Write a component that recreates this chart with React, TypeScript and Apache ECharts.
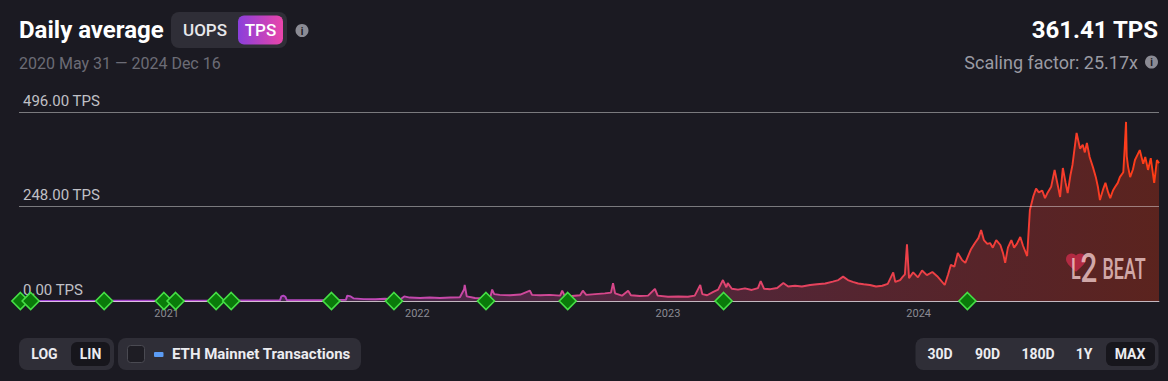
import React, { useEffect, useRef } from "react";
import * as echarts from "echarts";

// ---------- data ----------
const tpsDates = [
  "2020-05-31","2020-07-15","2020-09-01","2020-10-15","2020-12-01","2021-01-15","2021-03-01","2021-04-15",
  "2021-06-01","2021-06-15","2021-06-17","2021-06-20","2021-06-23","2021-06-25","2021-07-15","2021-08-10",
  "2021-09-01","2021-09-19","2021-09-21","2021-09-26","2021-09-30","2021-10-15","2021-11-01","2021-11-15",
  "2021-11-28","2021-12-07","2021-12-13","2021-12-21","2022-01-05","2022-01-19","2022-02-03","2022-02-18",
  "2022-03-04","2022-03-10","2022-03-11","2022-03-14","2022-03-26","2022-04-10","2022-04-17","2022-04-20",
  "2022-04-23","2022-05-01","2022-05-16","2022-05-31","2022-06-14","2022-06-17","2022-06-29","2022-07-13",
  "2022-07-28","2022-07-31","2022-08-04","2022-08-14","2022-08-26","2022-08-30","2022-09-04","2022-09-17",
  "2022-10-01","2022-10-10","2022-10-13","2022-10-16","2022-10-26","2022-11-04","2022-11-08","2022-11-21",
  "2022-12-03","2022-12-13","2022-12-17","2023-01-01","2023-01-16","2023-01-30","2023-02-09","2023-02-17",
  "2023-02-20","2023-02-27","2023-03-08","2023-03-15","2023-03-22","2023-03-27","2023-03-29","2023-04-04",
  "2023-04-13","2023-04-23","2023-05-03","2023-05-12","2023-05-16","2023-05-21","2023-05-30","2023-06-09",
  "2023-06-18","2023-06-25","2023-07-05","2023-07-15","2023-07-27","2023-08-06","2023-08-18","2023-08-29",
  "2023-09-06","2023-09-13","2023-09-20","2023-09-27","2023-10-05","2023-10-13","2023-10-22","2023-10-31",
  "2023-11-09","2023-11-17","2023-11-25","2023-11-28","2023-12-05","2023-12-09","2023-12-12","2023-12-15",
  "2023-12-18","2023-12-24","2023-12-31","2024-01-06","2024-01-13","2024-01-21","2024-01-28","2024-02-02",
  "2024-02-08","2024-02-13","2024-02-17","2024-02-22","2024-02-27","2024-03-04","2024-03-09","2024-03-13",
  "2024-03-17","2024-03-23","2024-03-28","2024-04-01","2024-04-05","2024-04-10","2024-04-14","2024-04-18",
  "2024-04-23","2024-04-29","2024-05-03","2024-05-06","2024-05-10","2024-05-15","2024-05-19","2024-05-23",
  "2024-05-28","2024-06-01","2024-06-07","2024-06-11","2024-06-16","2024-06-20","2024-06-24","2024-06-29",
  "2024-07-03","2024-07-07","2024-07-12","2024-07-17","2024-07-22","2024-07-25","2024-07-29","2024-08-02",
  "2024-08-05","2024-08-09","2024-08-12","2024-08-15","2024-08-18","2024-08-23","2024-08-27","2024-08-30",
  "2024-09-02","2024-09-06","2024-09-11","2024-09-15","2024-09-18","2024-09-21","2024-09-26","2024-09-29",
  "2024-10-03","2024-10-06","2024-10-10","2024-10-13","2024-10-17","2024-10-20","2024-10-25","2024-10-27",
  "2024-10-29","2024-10-30","2024-11-01","2024-11-04","2024-11-08","2024-11-11","2024-11-15","2024-11-18",
  "2024-11-23","2024-11-26","2024-11-30","2024-12-04","2024-12-09","2024-12-13","2024-12-16",
];
const tpsValues = [
  0.2,0.3,0.4,0.5,0.6,0.8,1.0,1.2,
  1.5,1.8,12,14,11,2,1.8,2,
  2.5,3,14,12,7,5,4.5,6,
  4,4,12,9,8,9,8,9,
  10,30,42,12,8,7,8,30,
  18,16,15,17,27,16,15,16,
  14,27,12,13,15,27,16,18,
  20,22,47,20,14,27,15,13,
  14,32,14,11,12,11,14,42,
  18,15,24,30,55,36,47,32,
  30,33,29,34,52,32,31,34,
  47,38,40,38,42,44,46,51,
  55,64,55,50,46,44,42,38,
  40,45,75,50,55,64,70,149,
  60,75,62,80,68,76,65,55,
  42,70,95,90,126,108,100,118,
  135,152,165,186,160,150,152,140,
  160,147,125,100,140,160,140,150,
  168,145,118,239,275,295,285,290,
  270,285,300,344,300,273,349,310,
  283,330,357,400,441,400,410,390,
  415,378,350,325,300,265,295,310,
  285,270,290,299,310,325,338,400,
  470,380,352,325,345,370,385,396,
  360,378,344,375,310,370,361.41,
];
const milestoneDates = [
  "2020-06-02","2020-06-17","2020-10-02","2020-12-28","2021-01-14","2021-03-14","2021-04-05",
  "2021-08-29","2021-11-28","2022-04-11","2022-08-08","2023-03-23","2024-03-12",
];
const rangeStart = "2020-05-31";
const rangeEnd = "2024-12-16";
const rangeLabel = "2020 May 31 — 2024 Dec 16";
const yMax = 496;
const yStep = 248;
const latestTps = 361.41;
const scalingFactor = 25.17;
const rangeButtons = ["30D", "90D", "180D", "1Y", "MAX"];

const BG = "#1b1a22";
const PANEL = "#2f2e37";
const DARK = "#17161c";
const FONT = "Roboto, 'Noto Sans', sans-serif";

export default function App() {
  const ref = useRef<HTMLDivElement>(null);

  useEffect(() => {
    if (!ref.current) return;
    echarts.graphic.registerShape(
      "heart",
      echarts.graphic.extendPath(
        "M12 21.35l-1.45-1.32C5.4 15.36 2 12.28 2 8.5 2 5.42 4.42 3 7.5 3c1.74 0 3.41.81 4.5 2.09C13.09 3.81 14.76 3 16.5 3 19.58 3 22 5.42 22 8.5c0 3.78-3.4 6.86-8.55 11.54L12 21.35z",
        {}
      )
    );
    const chart = echarts.init(ref.current, null, { renderer: "svg" });

    const stops = [
      { offset: 0, c: [155, 63, 214] },
      { offset: 0.25, c: [184, 72, 192] },
      { offset: 0.45, c: [208, 72, 154] },
      { offset: 0.62, c: [224, 68, 112] },
      { offset: 0.78, c: [236, 64, 72] },
      { offset: 0.9, c: [245, 60, 48] },
      { offset: 1, c: [255, 60, 20] },
    ];
    const lineGrad = new echarts.graphic.LinearGradient(
      0, 0, 1, 0,
      stops.map((s) => ({ offset: s.offset, color: `rgb(${s.c.join(",")})` }))
    );
    const areaGrad = new echarts.graphic.LinearGradient(
      0, 0, 1, 0,
      stops.map((s) => ({ offset: s.offset, color: `rgba(${s.c.join(",")},0.4)` }))
    );

    const txt = (x: number, y: number, text: string, o: any = {}) => ({
      type: "text",
      x,
      y,
      z: 10,
      style: {
        text,
        fill: o.fill || "#ffffff",
        fontSize: o.fontSize || 14,
        fontWeight: o.fontWeight || "normal",
        fontFamily: FONT,
        textAlign: o.align || "left",
        align: o.align || "left",
        textVerticalAlign: "middle",
        verticalAlign: "middle",
      },
    });
    const info = (cx: number, cy: number) => [
      { type: "circle", z: 10, shape: { cx, cy, r: 6.5 }, style: { fill: "#8b8b94" } },
      txt(cx, cy + 0.5, "i", { fill: BG, fontSize: 10, fontWeight: "bold", align: "center" }),
    ];

    const btnCenters = [940, 987.5, 1038, 1084, 1130];
    const logoFill = "rgba(242,205,205,0.8)";

    const graphic: any[] = [
      txt(19, 30, "Daily average", { fontSize: 24, fontWeight: "bold" }),
      { type: "rect", z: 10, shape: { x: 171, y: 12, width: 116, height: 36, r: 8 }, style: { fill: PANEL } },
      txt(205, 30, "UOPS", { fontSize: 17, fontWeight: "500", fill: "#e8e8ec", align: "center" }),
      {
        type: "rect",
        z: 10,
        shape: { x: 238, y: 15.5, width: 45, height: 29, r: 6 },
        style: {
          fill: new echarts.graphic.LinearGradient(0, 0, 1, 0, [
            { offset: 0, color: "#8a3fdb" },
            { offset: 1, color: "#ea45aa" },
          ]),
        },
      },
      txt(260.5, 30, "TPS", { fontSize: 17, fontWeight: "500", align: "center" }),
      ...info(302, 30.5),
      txt(19, 63, rangeLabel, { fontSize: 16, fill: "#6c6c76" }),
      txt(1158, 30, `${latestTps.toFixed(2)} TPS`, { fontSize: 24, fontWeight: "bold", align: "right" }),
      txt(1138, 62, `Scaling factor: ${scalingFactor.toFixed(2)}x`, { fontSize: 18, fill: "#9a9aa3", align: "right" }),
      ...info(1151.5, 62),
      // L2BEAT watermark
      { type: "heart", z: 6, x: 1064, y: 250.5, scaleX: 1, scaleY: 1, style: { fill: "#c22c48", opacity: 0.85 } },
      { type: "text", z: 7, x: 1071, y: 284, scaleX: 0.62, style: { text: "L", fontSize: 29, fontWeight: "500", fontFamily: FONT, fill: logoFill, textVerticalAlign: "bottom", verticalAlign: "bottom" } },
      { type: "text", z: 7, x: 1080.5, y: 289, scaleX: 0.72, style: { text: "2", fontSize: 41, fontWeight: "500", fontFamily: FONT, fill: logoFill, textVerticalAlign: "bottom", verticalAlign: "bottom" } },
      { type: "text", z: 7, x: 1102.5, y: 284, scaleX: 0.62, style: { text: "BEAT", fontSize: 29, fontWeight: "500", fontFamily: FONT, fill: logoFill, textVerticalAlign: "bottom", verticalAlign: "bottom" } },
      // bottom left controls
      { type: "rect", z: 10, shape: { x: 19, y: 338, width: 95, height: 32, r: 8 }, style: { fill: PANEL } },
      { type: "rect", z: 10, shape: { x: 71, y: 342, width: 39, height: 24, r: 6 }, style: { fill: DARK } },
      txt(44.5, 354, "LOG", { fontWeight: "bold", align: "center", fill: "#ececf0" }),
      txt(90.5, 354, "LIN", { fontWeight: "bold", align: "center", fill: "#ececf0" }),
      { type: "rect", z: 10, shape: { x: 118, y: 338, width: 243, height: 32, r: 8 }, style: { fill: PANEL } },
      { type: "rect", z: 10, shape: { x: 127.5, y: 345.5, width: 17, height: 17, r: 3 }, style: { fill: "#1e1d24", stroke: "#4a4a52", lineWidth: 1 } },
      { type: "rect", z: 10, shape: { x: 154, y: 352, width: 9.5, height: 5, r: 1 }, style: { fill: "#5b9cf5" } },
      txt(172, 354, "ETH Mainnet Transactions", { fontWeight: "bold", fontSize: 15, fill: "#ececf0" }),
      // bottom right controls
      { type: "rect", z: 10, shape: { x: 915.5, y: 338, width: 243, height: 32, r: 8 }, style: { fill: PANEL } },
      { type: "rect", z: 10, shape: { x: 1106, y: 342, width: 49, height: 24, r: 6 }, style: { fill: DARK } },
      ...rangeButtons.map((b, i) => txt(btnCenters[i], 354, b, { fontWeight: "bold", align: "center", fill: "#ececf0" })),
    ];

    chart.setOption({
      animation: false,
      backgroundColor: BG,
      grid: { left: 19, right: 9, top: 112, bottom: 80, containLabel: false },
      xAxis: {
        type: "time",
        min: rangeStart,
        max: rangeEnd,
        z: 3,
        minInterval: 365 * 24 * 3600 * 1000,
        maxInterval: 366 * 24 * 3600 * 1000,
        axisLine: { show: true, lineStyle: { color: "rgba(255,235,245,0.55)", width: 1 } },
        axisTick: { show: false },
        splitLine: { show: false },
        axisLabel: {
          color: "#8b8b93",
          fontSize: 11,
          fontFamily: FONT,
          margin: 7,
          showMinLabel: false,
          showMaxLabel: false,
          formatter: (v: number) => String(new Date(v).getFullYear()),
        },
      },
      yAxis: {
        type: "value",
        min: 0,
        max: yMax,
        interval: yStep,
        z: 3,
        axisLine: { show: false },
        axisTick: { show: false },
        splitLine: { show: true, lineStyle: { color: "rgba(255,255,255,0.42)", width: 1 } },
        axisLabel: {
          inside: true,
          margin: 4,
          color: "#c0c0c6",
          fontSize: 15,
          fontFamily: FONT,
          verticalAlign: "bottom",
          padding: [0, 0, 4, 0],
          formatter: (v: number) => `${v.toFixed(2)} TPS`,
        },
      },
      series: [
        {
          name: "TPS",
          type: "line",
          showSymbol: false,
          z: 2,
          data: tpsDates.map((d, i) => [d, tpsValues[i]]),
          lineStyle: { color: lineGrad, width: 1.9 },
          itemStyle: { color: "#e04470" },
          areaStyle: { color: areaGrad },
        },
        {
          name: "Milestones",
          type: "scatter",
          z: 5,
          clip: false,
          symbol: "diamond",
          symbolSize: 17,
          data: milestoneDates.map((d) => [d, 0]),
          itemStyle: { color: "#0a7a0a", borderColor: "#46e046", borderWidth: 1.6, opacity: 1 },
        },
      ],
      graphic,
    });

    return () => chart.dispose();
  }, []);

  return (
    <div
      ref={ref}
      style={{ position: "fixed", left: 0, top: 0, width: 1168, height: 381, background: BG }}
    />
  );
}
